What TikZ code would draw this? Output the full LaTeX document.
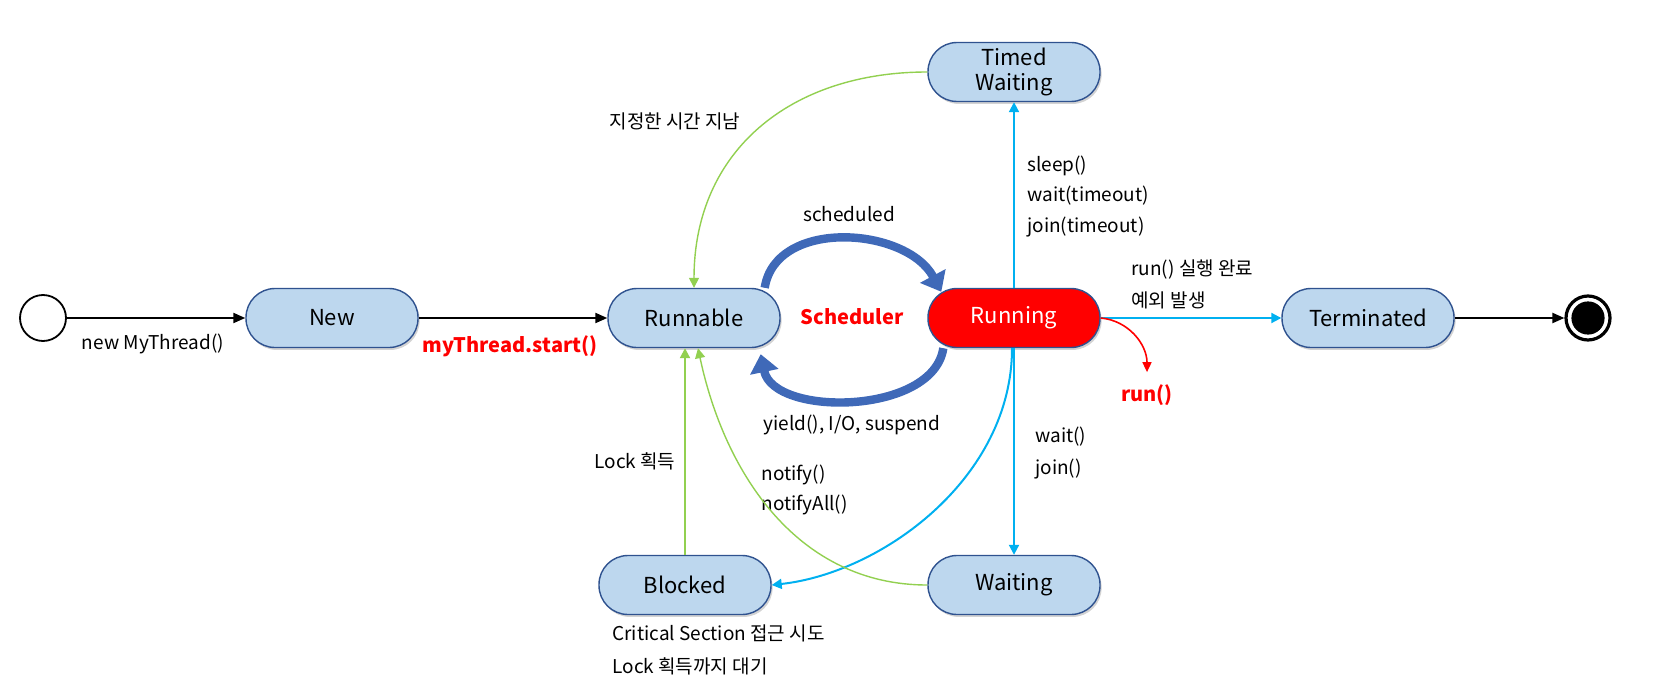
\documentclass[tikz,border=0pt]{standalone}
\usepackage{fontspec}
\setmainfont{Noto Sans CJK KR}
\usetikzlibrary{arrows.meta, shadows}

\definecolor{statefill}{HTML}{BDD7EE}
\definecolor{stateline}{HTML}{2F528F}
\definecolor{runred}{HTML}{FF0000}
\definecolor{flowblue}{HTML}{00B0F0}
\definecolor{flowgreen}{HTML}{92D050}
\definecolor{schedblue}{HTML}{3F69B8}

\tikzset{
  % The 'state' style is the pill-shaped box of one thread state
  state/.style={draw=stateline, line width=0.7pt, fill=statefill, rounded corners=14.5pt,
    minimum width=86pt, minimum height=29.5pt, inner sep=2pt, align=center,
    font=\fontsize{11}{12.5}\selectfont,
    drop shadow={opacity=0.35, shadow xshift=0.8pt, shadow yshift=-1.2pt}},
  % The 'active' style paints the running state red with white text
  active/.style={state, fill=runred, text=white},
  % The 'startstate' and 'endstate' styles are the two pseudo states
  startstate/.style={circle, draw=black, line width=0.9pt, minimum size=23pt, inner sep=0pt},
  endstate/.style={circle, draw=black, line width=1.6pt, fill=white, minimum size=22pt, inner sep=0pt,
    path picture={\fill[black] (path picture bounding box.center) circle (8.3pt);}},
  % Connector styles, one per colour
  blackflow/.style={draw=black, line width=1pt, -{Triangle[length=6pt, width=5pt]}},
  blueflow/.style={draw=flowblue, line width=1pt, -{Triangle[length=5pt, width=5pt]}},
  greenflow/.style={draw=flowgreen, line width=0.7pt, -{Triangle[length=5pt, width=5pt]}},
  redflow/.style={draw=runred, line width=0.8pt, -{Triangle[length=5pt, width=4.5pt]}},
  % The 'schedflow' style is the thick curved arrow of the scheduler
  schedflow/.style={draw=schedblue, line width=4.2pt, -{Triangle[length=9pt, width=14pt]}},
  % Text styles
  label-text/.style={font=\fontsize{9.5}{11}\selectfont, inner sep=0pt},
  note-text/.style={label-text, anchor=west},
  red-text/.style={font=\bfseries\fontsize{10}{12}\selectfont, text=runred, inner sep=0pt}
}

\begin{document}
\begin{tikzpicture}[x=0.5pt, y=0.5pt]
  \useasboundingbox (0,0) rectangle (1653,-690);

  % States of the thread
  \node[startstate] at (43,-318) (start) {};
  \node[state] at (332,-318) (new) {New};
  \node[state] at (694,-318) (runnable) {Runnable};
  \node[active] at (1014,-318) (running) {Running};
  \node[state] at (1368,-318) (terminated) {Terminated};
  \node[endstate] at (1588,-318) (end) {};
  \node[state] at (1014,-72) (timed) {Timed\\Waiting};
  \node[state] at (685,-585) (blocked) {Blocked};
  \node[state] at (1014,-585) (waiting) {Waiting};

  % Texts beside the connectors
  \node[label-text] at (153,-344) (newlabel) {new MyThread()};
  \node[red-text] at (510,-346) (startlabel) {myThread.start()};
  \node[label-text] at (675,-121) (timeuplabel) {지정한 시간 지남};
  \node[label-text] at (849,-214) (schedlabel) {scheduled};
  \node[red-text] at (852,-317) (scheduler) {Scheduler};
  \node[label-text] at (852,-425) (yieldlabel) {yield(), I/O, suspend};
  \node[note-text] at (594,-461) (locklabel) {Lock 획득};
  \node[note-text] at (761,-475) (notify) {notify()};
  \node[note-text] at (761,-505) (notifyall) {notifyAll()};
  \node[note-text] at (1035,-437) (waitlabel) {wait()};
  \node[note-text] at (1035,-469) (joinlabel) {join()};
  \node[note-text] at (1027,-166) (sleeplabel) {sleep()};
  \node[note-text] at (1027,-196) (waittlabel) {wait(timeout)};
  \node[note-text] at (1027,-227) (jointlabel) {join(timeout)};
  \node[note-text] at (1131,-270) (donelabel) {run() 실행 완료};
  \node[note-text] at (1131,-300) (errlabel) {예외 발생};
  \node[red-text] at (1147,-395) (runcall) {run()};
  \node[note-text] at (612,-633) (critlabel) {Critical Section 접근 시도};
  \node[note-text] at (612,-666) (waitlocklabel) {Lock 획득까지 대기};

  % Main line from start to end
  \draw[blackflow] (start) -- (new);
  \draw[blackflow] (new) -- (runnable);
  \draw[blackflow] (terminated) -- (end);

  % Scheduler arrows between Runnable and Running
  \draw[schedflow] ([xshift=-8pt]runnable.north east) .. controls +(11,70) and +(-35,65) .. ([xshift=7pt,yshift=-2pt]running.north west);
  \draw[schedflow] ([xshift=8pt]running.south west) .. controls +(-10,-67) and +(13,-63) .. ([xshift=-10pt,yshift=-3pt]runnable.south east);

  % Blue connectors out of Running
  \draw[blueflow] (running.north) -- (timed.south);
  \draw[blueflow] (running.south) -- (waiting.north);
  \draw[blueflow] (running.east) -- (terminated.west);
  \draw[blueflow] ([xshift=-1pt]running.south) .. controls +(0,-130) and +(110,12) .. (blocked.east);
  \draw[redflow] (running.east) to[out=-5, in=90] ([yshift=6pt]runcall.north);

  % Green connectors back to Runnable
  \draw[greenflow] (timed.west) to[out=180, in=90, looseness=1.1] (runnable.north);
  \draw[greenflow, line width=1pt] (blocked.north) -- (blocked.north |- runnable.south);
  \draw[greenflow] (waiting.west) to[out=180, in=-78] ([xshift=2pt]runnable.south);

\end{tikzpicture}
\end{document}
